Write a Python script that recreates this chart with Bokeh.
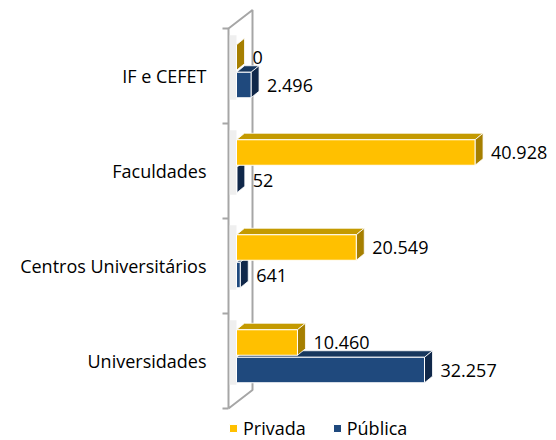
import numpy as np
from bokeh.plotting import figure
from bokeh.models import Range1d, FixedTicker, Legend, LegendItem, ColumnDataSource
from bokeh.embed import file_html
from bokeh.resources import INLINE
from bokeh.core.properties import value

# ---- data (bottom to top) ----
categories = ["Universidades", "Centros Universitários", "Faculdades", "IF e CEFET"]
privada = [10460, 20549, 40928, 0]
publica = [32257, 641, 52, 2496]
series_names = ["Privada", "Pública"]

# ---- layout / style ----
FONT = "Open Sans"
FONT_VALUE = value(FONT)
FS = "18px"
W, H = 552, 440
LEFT = 226                 # frame left (figure px)
Y0_PX = 408                # figure px of the bottom band edge
K = 188 / 32257            # px per unit along x
BAND = 95                  # px per category band
DX, DY = 8 / K, 6.5 / BAND # 3D depth offsets in data units
HH = 12.75 / BAND          # half bar height
OFF_PRIV, OFF_PUB = 18.5 / BAND, -9 / BAND
LBL_GAP = 16 / K
WALL_X0, WALL_X1 = -8 / K, 16 / K
WALL_DY = 18.5 / BAND
GREY = "#A6A6A6"

C_PRIV = ("#FFC000", "#C49A00", "#A67F00")   # front, top, side
C_PUB = ("#1F497D", "#17375E", "#10284A")

x_range = Range1d(-10 / K, (W - LEFT - 10) / K)
y_range = Range1d(-(H - Y0_PX) / BAND, Y0_PX / BAND)

p = figure(width=W, height=H, output_backend="svg", toolbar_location=None,
           x_range=x_range, y_range=y_range, title=None,
           min_border_left=LEFT, min_border_right=0, min_border_top=0, min_border_bottom=0)
p.xaxis.visible = False
p.xgrid.visible = False
p.ygrid.visible = False
p.outline_line_color = None
p.background_fill_color = "white"
p.border_fill_color = "white"

n = len(categories)
centers = np.arange(n) + 0.5

# ---- wall (3D side panel) ----
p.line([WALL_X0, WALL_X0, WALL_X1, WALL_X1, WALL_X0],
       [0, n, n + WALL_DY, WALL_DY, 0], line_color=GREY, line_width=2)

# soft shadow on the wall behind each bar group
p.quad(left=[WALL_X0 + 1 / K] * n, right=[0] * n,
       bottom=list(centers + OFF_PUB - HH - 2 / BAND),
       top=list(centers + OFF_PRIV + HH + DY + 3 / BAND),
       fill_color="#E8E8E8", line_color=None, fill_alpha=0.7)


def draw_series(vals, yc, colors):
    vals = np.asarray(vals, dtype=float)
    front, topc, sidec = colors
    top_xs = [[0, v, v + DX, DX] for v in vals]
    top_ys = [[y + HH, y + HH, y + HH + DY, y + HH + DY] for y in yc]
    side_xs = [[v, v, v + DX, v + DX] for v in vals]
    side_ys = [[y - HH, y + HH, y + HH + DY, y - HH + DY] for y in yc]
    p.patches(top_xs, top_ys, fill_color=topc, line_color="white", line_width=0.8)
    p.patches(side_xs, side_ys, fill_color=sidec, line_color="white", line_width=0.8)
    src = ColumnDataSource(dict(left=np.zeros(len(vals)), right=vals,
                                bottom=yc - HH, top=yc + HH))
    r = p.quad(left="left", right="right", bottom="bottom", top="top", source=src,
               fill_color=front, line_color="white", line_width=1)
    lbl = ColumnDataSource(dict(x=vals + LBL_GAP, y=yc,
                                t=[f"{int(v):,}".replace(",", ".") for v in vals]))
    p.text(x="x", y="y", text="t", source=lbl, text_font=FONT_VALUE,
           text_font_size=FS, text_align="left", text_baseline="middle",
           text_color="#000000")
    return r


r_pub = draw_series(publica, centers + OFF_PUB, C_PUB)
r_priv = draw_series(privada, centers + OFF_PRIV, C_PRIV)

# ---- category axis ----
ax = p.yaxis[0]
ax.ticker = FixedTicker(ticks=list(centers), minor_ticks=list(range(n + 1)))
ax.major_label_overrides = {float(c): cat for c, cat in zip(centers, categories)}
ax.axis_line_color = None
ax.major_tick_out = 0
ax.major_tick_in = 0
ax.minor_tick_out = 4
ax.minor_tick_in = 2
ax.minor_tick_line_color = GREY
ax.minor_tick_line_width = 2
ax.major_label_standoff = 16
ax.major_label_text_font = FONT
ax.major_label_text_font_size = FS
ax.major_label_text_color = "#000000"

# ---- legend ----
legend = Legend(items=[LegendItem(label=series_names[0], renderers=[r_priv]),
                       LegendItem(label=series_names[1], renderers=[r_pub])],
                location=(2, 0), orientation="horizontal",
                border_line_color=None, background_fill_alpha=0,
                padding=0, margin=0, spacing=26,
                glyph_width=10, glyph_height=10, label_standoff=5,
                label_text_font=FONT, label_text_font_size=FS,
                label_text_color="#000000")
p.add_layout(legend)

open("out.html", "w").write(file_html(p, INLINE))
